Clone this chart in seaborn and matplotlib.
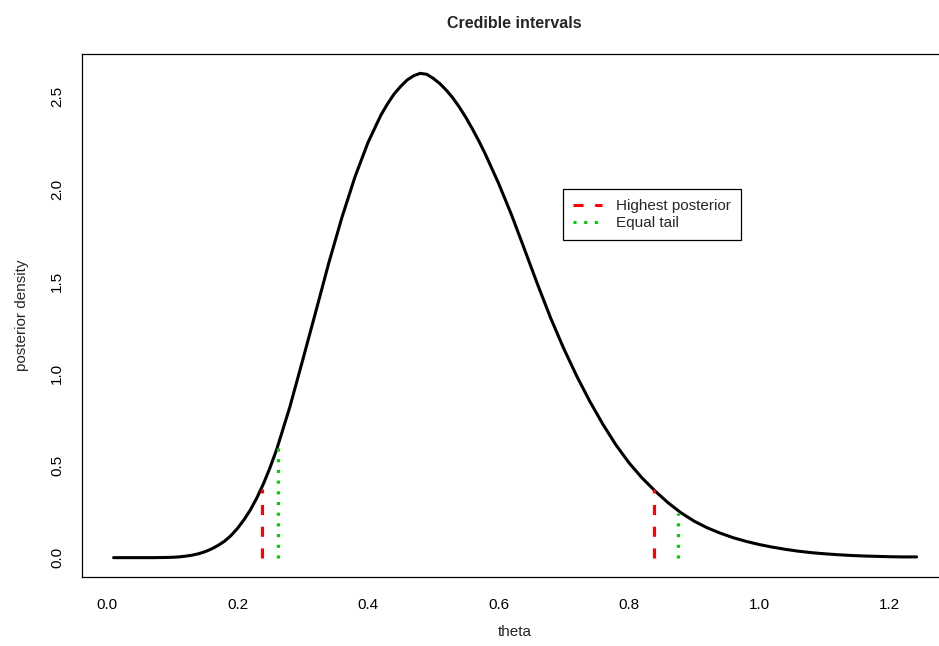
import matplotlib
matplotlib.use("Agg")
import matplotlib.pyplot as plt
import seaborn as sns
import pandas as pd

# Posterior density curve
theta = [0.010, 0.040, 0.070, 0.090, 0.100, 0.110, 0.120, 0.130, 0.140, 0.150,
         0.160, 0.170, 0.180, 0.190, 0.200, 0.210, 0.220, 0.230, 0.240, 0.250,
         0.260, 0.280, 0.300, 0.320, 0.340, 0.360, 0.380, 0.400, 0.420, 0.430,
         0.440, 0.450, 0.460, 0.470, 0.480, 0.490, 0.500, 0.510, 0.520, 0.530,
         0.540, 0.550, 0.560, 0.570, 0.580, 0.600, 0.620, 0.640, 0.660, 0.680,
         0.700, 0.720, 0.740, 0.760, 0.780, 0.800, 0.820, 0.840, 0.860, 0.880,
         0.900, 0.920, 0.940, 0.960, 0.980, 1.000, 1.020, 1.040, 1.060, 1.080,
         1.100, 1.120, 1.140, 1.160, 1.180, 1.200, 1.220, 1.241]
density = [0.000, 0.000, 0.000, 0.001, 0.002, 0.004, 0.008, 0.013, 0.021, 0.032,
           0.047, 0.066, 0.089, 0.120, 0.159, 0.206, 0.261, 0.327, 0.403, 0.490,
           0.587, 0.815, 1.073, 1.335, 1.600, 1.845, 2.065, 2.252, 2.402, 2.462,
           2.515, 2.556, 2.591, 2.614, 2.627, 2.622, 2.600, 2.572, 2.536, 2.494,
           2.444, 2.388, 2.326, 2.260, 2.188, 2.032, 1.860, 1.672, 1.482, 1.300,
           1.135, 0.985, 0.848, 0.724, 0.612, 0.515, 0.433, 0.362, 0.298, 0.243,
           0.198, 0.162, 0.133, 0.108, 0.088, 0.071, 0.057, 0.045, 0.035, 0.027,
           0.021, 0.016, 0.012, 0.009, 0.007, 0.005, 0.004, 0.004]

# interval bounds and the curve height at each bound
hpd_bounds = [0.237, 0.838]
hpd_heights = [0.374, 0.374]
tail_bounds = [0.2616, 0.876]
tail_heights = [0.600, 0.240]

x_ticks = [0.0, 0.2, 0.4, 0.6, 0.8, 1.0, 1.2]
y_ticks = [0.0, 0.5, 1.0, 1.5, 2.0, 2.5]

sns.set_theme(style="white")
plt.rcParams["font.family"] = ["Liberation Sans", "DejaVu Sans"]

df = pd.DataFrame({"theta": theta, "density": density})

fig = plt.figure(figsize=(9.39, 6.46), dpi=100)
ax = fig.add_axes([0.0868, 0.1068, 0.9228, 0.8096])

sns.lineplot(data=df, x="theta", y="density", color="black", linewidth=2.2,
             sort=False, estimator=None, ax=ax, solid_joinstyle="round")

red = "#FF0000"
green = "#00CD00"
for b, h in zip(hpd_bounds, hpd_heights):
    hpd_line, = ax.plot([b, b], [0, h], color=red, linewidth=2.2,
                        linestyle=(0, (3.3, 3.8)), dash_capstyle="butt")
for b, h in zip(tail_bounds, tail_heights):
    tail_line, = ax.plot([b, b], [0, h], color=green, linewidth=2.2,
                         linestyle=(0, (1.0, 2.5)), dash_capstyle="butt")

ax.set_xlim(-0.0392, 1.2892)
ax.set_ylim(-0.105, 2.732)
ax.set_xticks(x_ticks)
ax.set_xticklabels([f"{t:.1f}" for t in x_ticks])
ax.set_yticks(y_ticks)
ax.set_yticklabels([f"{t:.1f}" for t in y_ticks], rotation=90, va="center")

for s in ax.spines.values():
    s.set_color("black")
    s.set_linewidth(0.9)
ax.tick_params(axis="both", direction="out", length=6.5, width=0.8,
               color="#333333", labelsize=11, labelcolor="black")
ax.tick_params(axis="x", pad=8.5)
ax.tick_params(axis="y", pad=6)

ax.set_xlabel("theta", fontsize=11, labelpad=9.5)
ax.set_ylabel("posterior density", fontsize=11, labelpad=15)
ax.set_title("Credible intervals", fontsize=11.5, fontweight="bold", pad=18.5)

leg = ax.legend([hpd_line, tail_line], ["Highest posterior", "Equal tail"],
                loc="upper left", bbox_to_anchor=(0.5557, 0.7419),
                fontsize=11, frameon=True, fancybox=False, framealpha=1,
                edgecolor="black", handlelength=1.9, handletextpad=0.9,
                borderpad=0.65, labelspacing=0.2, borderaxespad=0)
leg.get_frame().set_linewidth(0.9)

fig.savefig("out.png", dpi=100)
